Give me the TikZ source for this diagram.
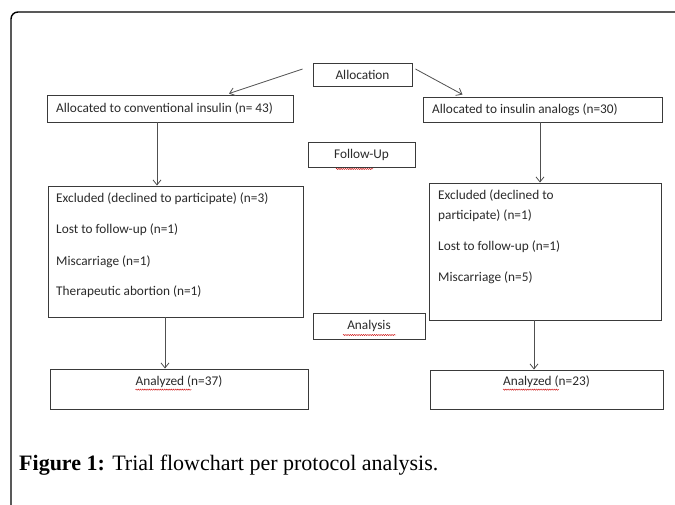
\documentclass[tikz,border=0pt]{standalone}
\usepackage{fontspec}
\setmainfont{Carlito}
\newfontfamily\capfont{Liberation Serif}
\usetikzlibrary{arrows.meta,calc,decorations.pathmorphing}
\definecolor{boxline}{HTML}{3A3A3A}
\definecolor{arrline}{HTML}{505050}
\definecolor{txt}{HTML}{2A2A2A}
\begin{document}
\begin{tikzpicture}[x=1pt,y=-1pt,
  flowbox/.style={draw=boxline,line width=0.9pt,rectangle,inner sep=0pt,
    font=\fontsize{13.3}{15}\selectfont,text=txt},
  boxtext/.style={inner sep=0pt,anchor=west,font=\fontsize{13.3}{15}\selectfont,text=txt},
  arr/.style={draw=arrline,line width=0.8pt,-{Straight Barb[length=5pt,width=8pt]}},
  squig/.style={draw=red!80!black,line width=0.4pt,decorate,
    decoration={snake,segment length=2.2pt,amplitude=0.6pt}}]
\useasboundingbox (0,0) rectangle (675,505);
\fill[white] (0,0) rectangle (675,505);
% outer frame
\draw[line width=1.4pt,black,rounded corners=7pt] (11,512) -- (11,12) -- (690,12);
% boxes
\node[flowbox,minimum width=99pt,minimum height=23pt] (alloc) at (362.5,74.5) {Allocation};
\node[flowbox,minimum width=246pt,minimum height=27pt] (conv) at (170,108.5) {};
\node[boxtext] (convt) at (56,108.5) {Allocated to conventional insulin (n= 43)};
\node[flowbox,minimum width=239pt,minimum height=25pt] (analog) at (542.5,109.5) {};
\node[boxtext] (analogt) at (432,109.5) {Allocated to insulin analogs (n=30)};
\node[flowbox,minimum width=107pt,minimum height=25pt] (follow) at (361.5,154.5) {Follow-Up};
\node[flowbox,minimum width=255pt,minimum height=131pt] (excl1) at (175.5,251.5) {};
\node[boxtext] (e1a) at (56,199) {Excluded (declined to participate) (n=3)};
\node[boxtext] (e1b) at (56,230) {Lost to follow-up (n=1)};
\node[boxtext] (e1c) at (56,262) {Miscarriage (n=1)};
\node[boxtext] (e1d) at (56,292) {Therapeutic abortion (n=1)};
\node[flowbox,minimum width=232pt,minimum height=137pt] (excl2) at (545,251.5) {};
\node[boxtext] (e2a) at (438,196) {Excluded (declined to};
\node[boxtext] (e2b) at (438,216) {participate) (n=1)};
\node[boxtext] (e2c) at (438,247) {Lost to follow-up (n=1)};
\node[boxtext] (e2d) at (438,278) {Miscarriage (n=5)};
\node[flowbox,minimum width=112pt,minimum height=26pt] (analysis) at (369,326) {Analysis};
\node[flowbox,minimum width=258pt,minimum height=40pt] (an1) at (179,389) {};
\node[boxtext,anchor=center] (an1t) at (179,382) {Analyzed (n=37)};
\node[flowbox,minimum width=233pt,minimum height=39pt] (an2) at (546.5,389.5) {};
\node[boxtext,anchor=center] (an2t) at (546.5,382) {Analyzed (n=23)};
% spell-check squiggles
\draw[squig] ([xshift=0pt,yshift=-1.5pt]follow.south -| 336,0) -- ++(37,0);
\draw[squig] (343,335) -- ++(53,0);
\draw[squig] ([xshift=0pt,yshift=-1.5pt]an1t.south west) -- ++(56,0);
\draw[squig] ([xshift=0pt,yshift=-1.5pt]an2t.south west) -- ++(56,0);
% connectors
\draw[arr] ([xshift=-10pt,yshift=5.5pt]alloc.west) -- ([xshift=59pt,yshift=1pt]conv.north);
\draw[arr] ([xshift=3pt,yshift=5.5pt]alloc.east) -- ([xshift=-80pt,yshift=2pt]analog.north);
\draw[arr] ([xshift=-13pt]conv.south) -- ([xshift=-13pt]conv.south |- excl1.north);
\draw[arr] ([xshift=-2.5pt]analog.south) -- ([xshift=-2.5pt]analog.south |- excl2.north);
\draw[arr] ([xshift=-10.5pt]excl1.south) -- ([xshift=-10.5pt]excl1.south |- an1.north);
\draw[arr] ([xshift=-11pt]excl2.south) -- ([xshift=-11pt]excl2.south |- an2.north);
% caption
\node[anchor=west,inner sep=0pt,font=\capfont\fontsize{22}{26}\selectfont] (cap) at (19,465)
  {\textbf{Figure 1:} Trial flowchart per protocol analysis.};
\end{tikzpicture}
\end{document}
